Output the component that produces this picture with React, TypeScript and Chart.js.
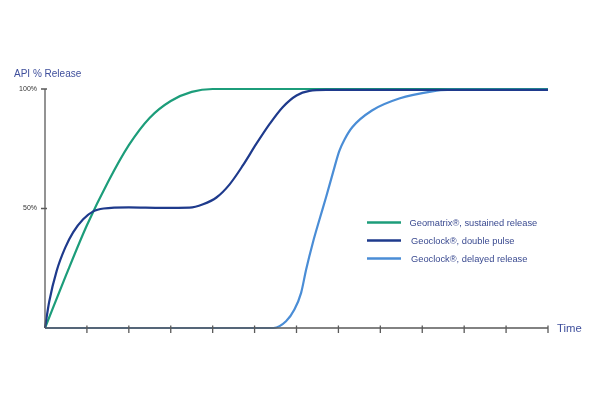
import React, { useEffect, useRef } from 'react';
import { Chart, registerables, Plugin } from 'chart.js';

Chart.register(...registerables);

// time axis: 12 equal steps, no labels
const timeTicks = [0, 1, 2, 3, 4, 5, 6, 7, 8, 9, 10, 11, 12];
const releaseTicks = [50, 100];
const releaseTickLabels = ['50%', '100%'];

const seriesNames = [
  'Geomatrix®, sustained release',
  'Geoclock®, double pulse',
  'Geoclock®, delayed release',
];
const seriesColors = ['#1c9d7a', '#1e3a8c', '#4a8dd6'];

const sustainedT = [0, 0.5, 1, 1.5, 2, 2.5, 3, 3.5, 4, 12];
const sustainedV = [0, 22, 43, 61, 76.5, 88, 95, 98.8, 100, 100];

const pulseT = [0, 0.1, 0.28, 0.48, 0.67, 0.91, 1.15, 1.4, 2, 2.8, 3.45, 3.77, 4.09, 4.4, 4.72, 5.04, 5.36, 5.67, 6, 6.31, 6.7, 12];
const pulseV = [0, 11, 24, 33.5, 40, 45.5, 48.8, 50, 50.5, 50.3, 50.4, 51.8, 54.6, 60, 68, 77, 85.4, 92.4, 97.3, 99.2, 99.6, 99.6];

const delayedT = [0, 5.45, 5.75, 5.95, 6.11, 6.23, 6.39, 6.55, 6.71, 6.87, 7.02, 7.15, 7.33, 7.8, 8.45, 9.24, 9.6, 12];
const delayedV = [0, 0, 2.8, 7.7, 14.7, 24.5, 35.7, 45.5, 55, 65, 74, 79, 84, 91, 96, 99, 99.6, 99.6];

const FONT = '"Liberation Sans", Arial, sans-serif';

const decor: Plugin<'line'> = {
  id: 'decor',
  afterDatasetsDraw(chart) {
    const { ctx } = chart;
    const x = chart.scales.x;
    const y = chart.scales.y;
    const x0 = x.getPixelForValue(0);
    const y0 = y.getPixelForValue(0);
    ctx.save();
    ctx.strokeStyle = '#5a5a5a';
    ctx.lineWidth = 1.3;
    // y axis
    ctx.beginPath();
    ctx.moveTo(x0, y.getPixelForValue(100));
    ctx.lineTo(x0, y0);
    releaseTicks.forEach(v => {
      const py = y.getPixelForValue(v);
      ctx.moveTo(x0 - 4, py);
      ctx.lineTo(x0 + 2, py);
    });
    // x axis
    ctx.moveTo(x0, y0);
    ctx.lineTo(x.getPixelForValue(12) + 0.5, y0);
    timeTicks.slice(1).forEach(v => {
      const px = x.getPixelForValue(v);
      ctx.moveTo(px, y0 - 2.5);
      ctx.lineTo(px, y0 + 5);
    });
    ctx.stroke();

    ctx.fillStyle = '#333';
    ctx.font = `7px ${FONT}`;
    ctx.textAlign = 'right';
    ctx.textBaseline = 'middle';
    releaseTicks.forEach((v, i) => {
      ctx.fillText(releaseTickLabels[i], x0 - 8, y.getPixelForValue(v));
    });

    ctx.fillStyle = '#3f4f9c';
    ctx.textAlign = 'left';
    ctx.textBaseline = 'alphabetic';
    ctx.font = `10px ${FONT}`;
    ctx.fillText('API % Release', 14, 77);
    ctx.font = `11.3px ${FONT}`;
    ctx.textBaseline = 'middle';
    ctx.fillText('Time', 557, y0 + 1);

    // legend
    ctx.font = `9.3px ${FONT}`;
    ctx.fillStyle = '#3a4a90';
    seriesNames.forEach((name, i) => {
      const ly = 222.5 + i * 18;
      ctx.strokeStyle = seriesColors[i];
      ctx.lineWidth = 2.4;
      ctx.beginPath();
      ctx.moveTo(367, ly);
      ctx.lineTo(401, ly);
      ctx.stroke();
      ctx.fillText(name, i === 0 ? 409.5 : 411, ly + 0.5);
    });
    ctx.restore();
  },
};

const toPoints = (t: number[], v: number[]) => t.map((tt, i) => ({ x: tt, y: v[i] }));

export default function App() {
  const ref = useRef<HTMLCanvasElement>(null);

  useEffect(() => {
    if (!ref.current) return;
    const chart = new Chart(ref.current, {
      type: 'line',
      data: {
        datasets: [
          { label: seriesNames[0], data: toPoints(sustainedT, sustainedV), borderColor: seriesColors[0], order: 2 },
          { label: seriesNames[1], data: toPoints(pulseT, pulseV), borderColor: seriesColors[1], order: 0 },
          { label: seriesNames[2], data: toPoints(delayedT, delayedV), borderColor: seriesColors[2], order: 1 },
        ].map(d => ({ ...d, borderWidth: 2.2, pointRadius: 0, cubicInterpolationMode: 'monotone' as const, clip: false as const })),
      },
      options: {
        responsive: false,
        animation: false,
        devicePixelRatio: 1,
        layout: { padding: { left: 45, right: 52, top: 89, bottom: 72 } },
        scales: {
          x: { type: 'linear', min: 0, max: 12, display: false },
          y: { min: 0, max: 100, display: false },
        },
        plugins: { legend: { display: false }, tooltip: { enabled: false } },
      },
      plugins: [decor],
    });
    return () => chart.destroy();
  }, []);

  return (
    <div style={{ position: 'absolute', left: 0, top: 0, width: 600, height: 400, background: '#fff' }}>
      <canvas ref={ref} width={600} height={400} />
    </div>
  );
}
